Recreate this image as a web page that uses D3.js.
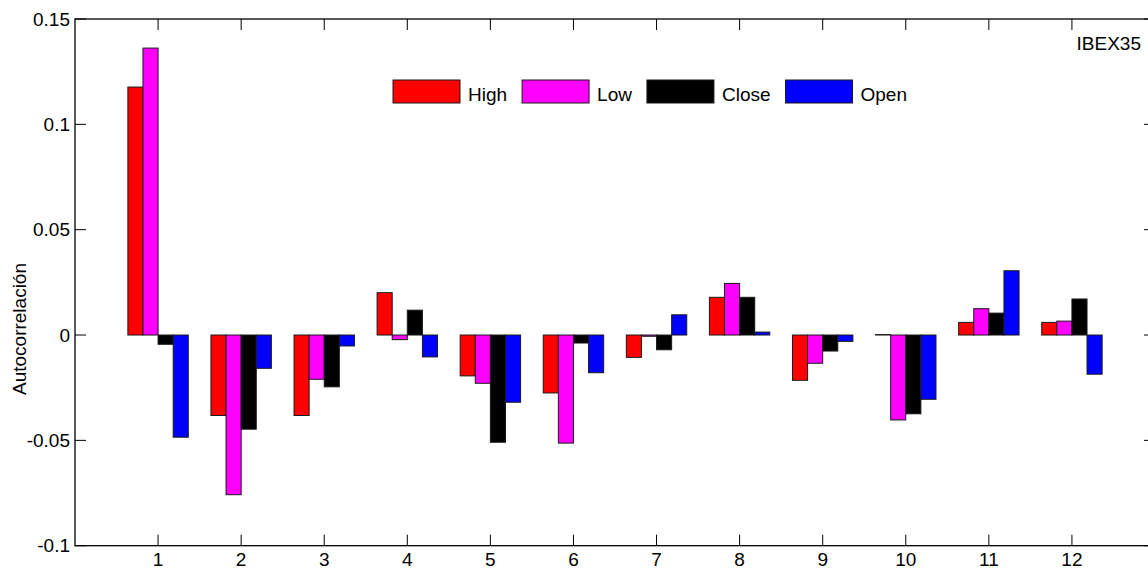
<!DOCTYPE html>
<html>
<head>
<meta charset="utf-8">
<script src="https://cdn.jsdelivr.net/npm/d3@7"></script>
<style>
  body { margin: 0; background: #fff; }
  svg text { font-family: Arial, 'Liberation Sans', sans-serif; fill: #000; }
</style>
</head>
<body>
<div id="visual"></div>
<script>
const lags = [1, 2, 3, 4, 5, 6, 7, 8, 9, 10, 11, 12];
const seriesNames = ['High', 'Low', 'Close', 'Open'];
const seriesColors = ['#ff0000', '#ff00ff', '#000000', '#0000ff'];
const high = [0.1177, -0.0382, -0.0382, 0.0201, -0.0194, -0.0275, -0.0106, 0.0179, -0.0215, 0.0002, 0.0060, 0.0060];
const low = [0.1362, -0.0758, -0.0210, -0.0022, -0.0229, -0.0513, -0.0006, 0.0245, -0.0134, -0.0403, 0.0125, 0.0066];
const close = [-0.0044, -0.0447, -0.0246, 0.0118, -0.0509, -0.0038, -0.0070, 0.0179, -0.0076, -0.0374, 0.0104, 0.0171];
const open = [-0.0485, -0.0158, -0.0052, -0.0104, -0.0319, -0.0179, 0.0096, 0.0014, -0.0030, -0.0305, 0.0305, -0.0186];
const yTicks = [-0.1, -0.05, 0, 0.05, 0.1, 0.15];
const panelLabel = 'IBEX35';
const yLabel = 'Autocorrelación';

const values = [high, low, close, open];

const width = 1148;
const height = 571;
const margin = { left: 75, right: 1155, top: 19, bottom: 545.7 };

const svg = d3.select('#visual').append('svg')
  .attr('width', width)
  .attr('height', height);

const x = d3.scaleLinear().domain([0, 13]).range([margin.left, margin.right]);
const y = d3.scaleLinear().domain([-0.1, 0.15]).range([margin.bottom, margin.top]);

// matlab style grouped bars: 4 bars touching, group width ~0.727
const inner = d3.scaleBand()
  .domain(seriesNames)
  .range([-0.3636, 0.3636])
  .padding(0);

const bars = [];
seriesNames.forEach((name, s) => {
  lags.forEach((lag, i) => {
    bars.push({ name, color: seriesColors[s], lag, value: values[s][i] });
  });
});

svg.append('g').selectAll('rect')
  .data(bars)
  .enter().append('rect')
  .attr('x', d => x(d.lag + inner(d.name)))
  .attr('width', d => x(d.lag + inner(d.name) + inner.bandwidth()) - x(d.lag + inner(d.name)))
  .attr('y', d => y(Math.max(0, d.value)))
  .attr('height', d => Math.abs(y(d.value) - y(0)))
  .style('fill', d => d.color)
  .style('stroke', '#1a1a1a')
  .style('stroke-width', 1);

// box
svg.append('rect')
  .attr('x', margin.left)
  .attr('y', margin.top)
  .attr('width', margin.right - margin.left)
  .attr('height', margin.bottom - margin.top)
  .style('fill', 'none')
  .style('stroke', '#000')
  .style('stroke-width', 1.3);

const tickLen = 11;
const ticks = svg.append('g').style('stroke', '#000').style('stroke-width', 1);

yTicks.forEach((t) => {
  ticks.append('line')
    .attr('x1', margin.left).attr('x2', margin.left + tickLen)
    .attr('y1', y(t)).attr('y2', y(t));
  ticks.append('line')
    .attr('x1', margin.right).attr('x2', margin.right - tickLen)
    .attr('y1', y(t)).attr('y2', y(t));
});
lags.forEach((t) => {
  ticks.append('line')
    .attr('x1', x(t)).attr('x2', x(t))
    .attr('y1', margin.bottom).attr('y2', margin.bottom - tickLen);
  ticks.append('line')
    .attr('x1', x(t)).attr('x2', x(t))
    .attr('y1', margin.top).attr('y2', margin.top + tickLen);
});

svg.append('g').selectAll('text')
  .data(yTicks)
  .enter().append('text')
  .attr('x', margin.left - 5)
  .attr('y', d => y(d))
  .attr('dy', '0.35em')
  .attr('text-anchor', 'end')
  .style('font-size', '19px')
  .text(d => String(+d.toFixed(2)));

svg.append('g').selectAll('text')
  .data(lags)
  .enter().append('text')
  .attr('x', d => x(d))
  .attr('y', 566)
  .attr('text-anchor', 'middle')
  .style('font-size', '19px')
  .text(d => d);

svg.append('text')
  .attr('transform', `translate(26,329) rotate(-90)`)
  .attr('text-anchor', 'middle')
  .style('font-size', '19px')
  .text(yLabel);

svg.append('text')
  .attr('x', 1141)
  .attr('y', 50)
  .attr('text-anchor', 'end')
  .style('font-size', '19px')
  .text(panelLabel);

// legend, laid out left to right from measured text widths
const legend = svg.append('g');
let lx = 393;
seriesNames.forEach((name, s) => {
  legend.append('rect')
    .attr('x', lx).attr('y', 80)
    .attr('width', 67).attr('height', 23)
    .style('fill', seriesColors[s])
    .style('stroke', '#1a1a1a')
    .style('stroke-width', 1);
  const t = legend.append('text')
    .attr('x', lx + 75).attr('y', 100.5)
    .style('font-size', '19px')
    .text(name);
  lx += 75 + t.node().getComputedTextLength() + 15;
});
</script>
</body>
</html>
